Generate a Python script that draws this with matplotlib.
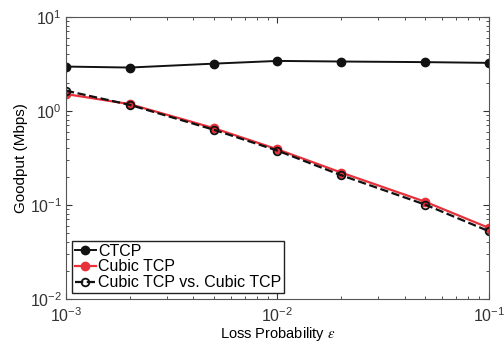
import matplotlib
matplotlib.use('Agg')
import matplotlib.pyplot as plt

plt.rcParams['font.family'] = ['Liberation Sans', 'DejaVu Sans']
plt.rcParams['mathtext.fontset'] = 'stix'

loss = [1e-3, 2e-3, 5e-3, 1e-2, 2e-2, 5e-2, 1e-1]
ctcp = [2.96, 2.89, 3.18, 3.40, 3.35, 3.30, 3.24]
cubic = [1.51, 1.18, 0.655, 0.39, 0.221, 0.108, 0.0569]
cubic_vs_cubic = [1.64, 1.16, 0.63, 0.378, 0.207, 0.1007, 0.0525]

W, H, DPI = 504, 344, 100
fig = plt.figure(figsize=(W/DPI, H/DPI), dpi=DPI)
ax = fig.add_axes([0.131, 0.131, 0.839, 0.820])

ax.loglog(loss, ctcp, '-o', color='#111111', lw=1.4, ms=6, label='CTCP')
ax.loglog(loss, cubic, '-o', color='#e8303a', mfc='#e8303a', mec='#e8303a',
          lw=1.6, ms=6, label='Cubic TCP')
ax.loglog(loss, cubic_vs_cubic, '--o', color='#111111', mfc='none', mec='#111111',
          mew=1.3, lw=1.6, ms=5.5, label='Cubic TCP vs. Cubic TCP')

ax.set_xlim(1e-3, 1e-1)
ax.set_ylim(1e-2, 1e1)
ax.set_xlabel(r'Loss Probability $\epsilon$', fontsize=10.5, labelpad=0)
ax.set_ylabel('Goodput (Mbps)', fontsize=11, labelpad=1)
ax.tick_params(which='both', direction='in', top=True, right=True,
               labelsize=11.5, colors='#333333')
ax.tick_params(axis='x', pad=5)
ax.tick_params(axis='y', pad=3)
ax.tick_params(which='major', length=4)
ax.tick_params(which='minor', length=2)
for s in ax.spines.values():
    s.set_color('#555555')

leg = ax.legend(loc='lower left', fontsize=11.5, handlelength=1.3, handletextpad=0.15,
                borderpad=0.15, labelspacing=0.05, borderaxespad=0.4,
                fancybox=False, framealpha=1)
leg.get_frame().set_edgecolor('#222222')
leg.get_frame().set_linewidth(1.0)

plt.savefig('out.png', dpi=DPI, facecolor='white')
